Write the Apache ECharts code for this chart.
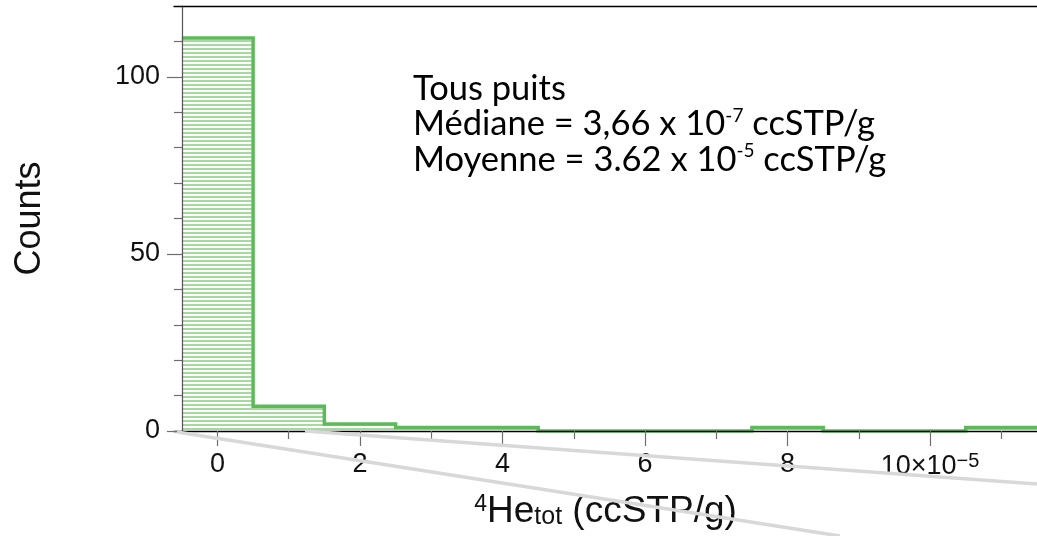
<!DOCTYPE html>
<html>
<head>
<meta charset="utf-8">
<script src="https://cdn.jsdelivr.net/npm/echarts@6/dist/echarts.min.js"></script>
<style>
  html, body { margin: 0; padding: 0; background: #fff; }
  #chart { width: 1037px; height: 536px; }
</style>
</head>
<body>
<div id="chart"></div>
<script>
// Histogram of 4He_tot (units of 1e-5 ccSTP/g), bin width 1
const binCenters = [0, 1, 2, 3, 4, 5, 6, 7, 8, 9, 10, 11];
const counts     = [111, 7, 2, 1, 1, 0, 0, 0, 1, 0, 0, 1];
const binWidth = 1;

const xMajorTicks = [0, 2, 4, 6, 8, 10];
const xMinorTicks = [1, 3, 5, 7, 9, 11];
const yMajorTicks = [0, 50, 100];
const yMinorTicks = [10, 20, 30, 40, 60, 70, 80, 90, 110];

const noteLines = [
  ['Tous puits', '', ''],
  ['Médiane = 3,66 x 10', '-7', ' ccSTP/g'],
  ['Moyenne = 3.62 x 10', '-5', ' ccSTP/g']
];

// step outline of the histogram, built from the bins
const stepPoints = [];
binCenters.forEach((c, i) => {
  stepPoints.push([c - binWidth / 2, counts[i]]);
  stepPoints.push([c + binWidth / 2, counts[i]]);
});

// horizontal hatch used to fill the bars
const hatch = document.createElement('canvas');
hatch.width = 4; hatch.height = 4;
const hctx = hatch.getContext('2d');
hctx.fillStyle = '#a5d99e';
hctx.fillRect(0, 0, 4, 2);

const GREEN = '#5dba5a';
const AXIS_FONT = "'Liberation Sans', Arial, sans-serif";
const NOTE_FONT = "Lato, 'Open Sans', sans-serif";

const chart = echarts.init(document.getElementById('chart'));

const tickStyle = { color: '#6e6e6e', width: 1.2 };
const X_MIN = -0.61, X_MAX = 11.5;

chart.setOption({
  animation: false,
  backgroundColor: '#fff',
  grid: { left: 174, right: -4, top: 6, bottom: 105, containLabel: false },
  xAxis: [
    {
      type: 'value', position: 'bottom', min: X_MIN, max: X_MAX, z: 5,
      axisLine: { show: true, onZero: false, lineStyle: { color: '#000', width: 1.3 } },
      axisTick: { show: true, length: 15, customValues: xMajorTicks, lineStyle: tickStyle },
      axisLabel: {
        show: true, customValues: xMajorTicks, margin: 20,
        fontFamily: AXIS_FONT, fontSize: 27, color: '#111',
        formatter: v => v === 10 ? '10×10{sup|−5}' : String(v),
        rich: { sup: { fontSize: 20, fontFamily: AXIS_FONT, color: '#111', verticalAlign: 'top', padding: [0, 0, 12, 0] } }
      },
      splitLine: { show: false },
      name: '{sup|4}He{sub|tot} (ccSTP/g)',
      nameLocation: 'middle', nameGap: 62,
      nameTextStyle: {
        fontFamily: AXIS_FONT, fontSize: 37, color: '#111',
        rich: {
          sup: { fontSize: 23, fontFamily: AXIS_FONT, color: '#111', verticalAlign: 'top', padding: [0, 0, 14, 0] },
          sub: { fontSize: 25, fontFamily: AXIS_FONT, color: '#111', verticalAlign: 'bottom', padding: [12, 0, 0, 0] }
        }
      }
    },
    {
      type: 'value', position: 'bottom', min: X_MIN, max: X_MAX, z: 5,
      axisLine: { show: false, onZero: false },
      axisTick: { show: true, length: 8, customValues: xMinorTicks, lineStyle: tickStyle },
      axisLabel: { show: false },
      splitLine: { show: false }
    },
    {
      type: 'value', position: 'top', min: X_MIN, max: X_MAX, z: 5,
      axisLine: { show: true, onZero: false, lineStyle: { color: '#000', width: 1.3 } },
      axisTick: { show: false }, axisLabel: { show: false }, splitLine: { show: false }
    }
  ],
  yAxis: [
    {
      type: 'value', position: 'left', min: 0, max: 120, offset: -8, z: 5,
      axisLine: { show: true, onZero: false, lineStyle: { color: '#555', width: 1.2 } },
      axisTick: { show: true, length: 15, customValues: yMajorTicks, lineStyle: tickStyle },
      axisLabel: { show: true, customValues: yMajorTicks, margin: 22, fontFamily: AXIS_FONT, fontSize: 27, color: '#111' },
      splitLine: { show: false },
      name: 'Counts', nameLocation: 'middle', nameRotate: 90, nameGap: 134,
      nameTextStyle: { fontFamily: AXIS_FONT, fontSize: 36, color: '#111' }
    },
    {
      type: 'value', position: 'left', min: 0, max: 120, offset: -8, z: 5,
      axisLine: { show: false, onZero: false },
      axisTick: { show: true, length: 8, customValues: yMinorTicks, lineStyle: tickStyle },
      axisLabel: { show: false }, splitLine: { show: false }
    }
  ],
  series: [
    {
      type: 'line', xAxisIndex: 0, yAxisIndex: 0,
      data: stepPoints, showSymbol: false, symbol: 'none', z: 2,
      lineStyle: { color: GREEN, width: 3.5, join: 'miter' },
      areaStyle: { color: { image: hatch, repeat: 'repeat' }, opacity: 1, origin: 'start' },
      clip: true
    }
  ],
  graphic: [
    {
      type: 'text', left: 413, top: 71, z: 20,
      style: {
        text: noteLines.map(l => l[1] ? `{n|${l[0]}}{s|${l[1]}}{n|${l[2]}}` : `{n|${l[0]}}`).join('\n'),
        rich: {
          n: { fontFamily: NOTE_FONT, fontSize: 34.5, lineHeight: 35.5, fill: '#000' },
          s: { fontFamily: NOTE_FONT, fontSize: 19, lineHeight: 35.5, fill: '#000', verticalAlign: 'top', padding: [0, 0, 14, 0] }
        }
      }
    },
    {
      type: 'line', z: 30, silent: true,
      shape: { x1: 177, y1: 432, x2: 840, y2: 536 },
      style: { stroke: '#d8d8d8', lineWidth: 3.5 }
    },
    {
      type: 'line', z: 30, silent: true,
      shape: { x1: 305, y1: 431, x2: 1037, y2: 484 },
      style: { stroke: '#d8d8d8', lineWidth: 3.5 }
    }
  ]
});
</script>
</body>
</html>
